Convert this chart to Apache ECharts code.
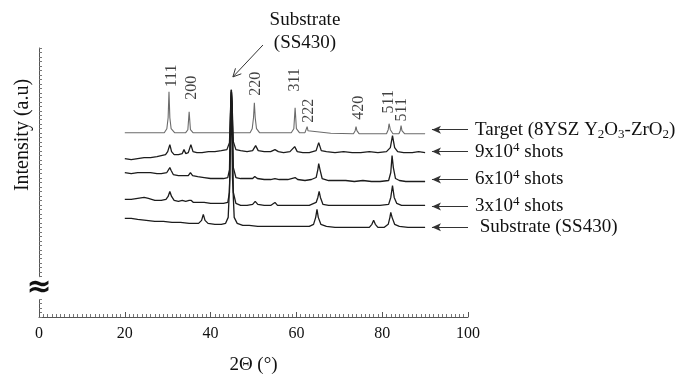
<!DOCTYPE html>
<html>
<head>
<meta charset="utf-8">
<script src="https://cdn.jsdelivr.net/npm/echarts@6/dist/echarts.min.js"></script>
<style>
  html, body { margin: 0; padding: 0; background: #fff; }
  #chart { width: 678px; height: 380px; }
</style>
</head>
<body>
<div id="chart"></div>
<script>
// 2θ ticks
const xTicks = [0, 20, 40, 60, 80, 100];

// patterns, [2θ, intensity with offset]
const target = [
  [20,185],[25,185],[29.2,185],[29.8,189],[30.1,200],[30.3,226],[30.5,200],[30.8,189],[31.6,185],
  [34.2,185],[34.7,188],[35.0,206],[35.3,188],[35.9,185],
  [45,185],[49.2,185],[49.7,189],[50.0,200],[50.2,215],[50.4,200],[50.7,189],[51.4,185],
  [58.8,185],[59.4,189],[59.7,210],[60.0,189],[60.7,185],
  [62.0,185],[62.3,187],[62.5,191],[62.7,187],[63.1,185],[68,184.5],
  [73.3,184],[73.7,187],[73.9,191],[74.1,187],[74.6,184],
  [81.0,184],[81.4,188],[81.6,194],[81.9,188],[82.5,184],
  [83.9,184],[84.2,187],[84.4,192],[84.6,187],[85.2,184],[90,184]
];
const shots9 = [
  [20,159],[21.5,158],[23,159],[24.5,160],[26,160],[27.5,161],[28.5,162],[29.5,163],[30.0,166],[30.5,173],
  [30.9,166],[31.5,163],[32.5,163],[33.4,164],[33.8,168],[34.2,164],[34.8,165],[35.4,173],[35.9,166],
  [36.8,165],[38,165],[39.5,166],[41,166],[42.5,167],[43.8,168],[44.4,175],[44.7,215],[44.85,228],
  [45.0,215],[45.3,176],[45.9,168],[47,167],[48.5,166],[49.8,167],[50.5,172],[51.1,167],[52.5,166],
  [54,166],[55,168],[55.8,166],[57,165],[58.5,166],[59.6,171],[60.2,166],[61.5,165],[63,165],[64.6,167],
  [65.2,175],[65.8,167],[67,166],[69,165],[71,166],[73,165],[75,165],[77,166],[79,165],[81,166],
  [81.9,170],[82.4,182],[82.9,170],[83.6,166],[85,165],[87,165],[88.5,166],[90,165]
];
const shots6 = [
  [20,145],[21.5,144],[23,145],[24.5,145],[26,145],[27.5,144],[28.5,144],[29.8,145],[30.2,147],[30.5,150],
  [30.8,147],[31.3,143],[32.5,142],[33.5,142],[34.8,142],[35.3,145],[35.8,142],[37,141],[38.5,140],
  [40,139],[41.5,139],[43,139],[44,140],[44.4,148],[44.7,215],[44.85,226],[45.0,215],[45.3,150],
  [45.9,140],[47,139],[48.5,139],[49.8,139],[50.3,141],[50.9,139],[52.5,138],[54,138],[55,139],[56,138],
  [58,138],[59.7,140],[60.3,138],[62,137],[63.5,138],[64.6,140],[65.0,148],[65.2,154],[65.5,148],[66,139],
  [67.5,137],[69.5,137],[71.5,137],[73.5,136],[75.5,137],[77.5,136],[79.5,136],[81.5,137],[82.0,145],
  [82.3,162],[82.6,150],[83.1,139],[84,137],[85.5,136],[87,136],[88.5,136],[90,136]
];
const shots3 = [
  [20,118],[21.5,118],[23,119],[24.5,120],[25.5,119],[27,117],[28.5,117],[29.6,118],[30.1,121],[30.5,126],
  [30.9,121],[31.5,117],[32.5,116],[33.4,117],[33.8,118],[34.2,116],[35.0,117],[35.5,117],[36,115],
  [37.5,115],[38.5,115],[40,114],[41.5,114],[43,114],[44,115],[44.4,125],[44.7,215],[44.85,226],
  [45.0,215],[45.3,125],[45.9,114],[47,112],[48.5,112],[49.8,113],[50.4,116],[51,113],[52.5,112],[54,112],
  [55,115],[55.6,112],[57,112],[59,112],[61,112],[63,112],[64.6,115],[65.0,120],[65.3,126],[65.6,120],
  [66.2,113],[67.5,112],[69.5,112],[71.5,112],[73.5,112],[75.5,112],[77.5,112],[79.5,112],[81.5,113],
  [82.0,120],[82.4,132],[82.8,120],[83.4,114],[84.5,112],[86,112],[88,112],[90,112]
];
const substrate = [
  [20,99],[21.5,99],[23,98],[25,97],[27,96],[29,96],[31,95],[33,95],[35,94],[37.2,94],[37.9,97],[38.3,103],
  [38.7,97],[39.4,94],[41,93],[42.5,93],[43.5,94],[44.1,100],[44.5,140],[44.8,228],[45.1,140],[45.5,100],
  [46.2,94],[47.5,92],[49,92],[51,91],[53,91],[55,91],[57,91],[59,91],[61,91],[63,91],[64.0,93],[64.5,100],
  [64.8,108],[65.1,100],[65.7,93],[67,91],[69,90],[71,90],[73,90],[75,90],[77,90],[77.6,93],[78.0,97],
  [78.4,93],[79,90],[80.5,90],[81.4,93],[81.8,100],[82.0,105],[82.3,100],[82.9,93],[84,91],[86,90],
  [88,90],[90,90]
];

// peak indices [2θ, position, hkl]
const peakLabels = [
  [30.9, 242, '111'], [35.7, 230, '200'], [50.5, 234, '220'], [59.7, 238, '311'],
  [63.0, 207, '222'], [74.5, 210, '420'], [81.5, 216, '511'], [84.5, 208, '511']
];

// right-hand names and arrow levels
const seriesNames = ['Target', '9x10^4 shots', '6x10^4 shots', '3x10^4 shots', 'Substrate (SS430)'];
const seriesLabels = [
  'Target (8YSZ Y{b|2}O{b|3}-ZrO{b|2})',
  '9x10{p|4} shots',
  '6x10{p|4} shots',
  '3x10{p|4} shots',
  ' Substrate (SS430)'
];
const arrowLevels = [188, 166, 138, 111, 90];
const seriesData = [target, shots9, shots6, shots3, substrate];
const lineColors = ['#6b6b6b', '#1c1c1c', '#1c1c1c', '#1c1c1c', '#1c1c1c'];

const font = 'Liberation Serif';

const chart = echarts.init(document.getElementById('chart'));

const series = seriesData.map((d, i) => ({
  name: seriesNames[i],
  type: 'line',
  data: d,
  showSymbol: false,
  symbol: 'none',
  smooth: false,
  clip: false,
  z: i === 0 ? 2 : 3,
  lineStyle: { color: lineColors[i], width: i === 0 ? 1.1 : 1.3 },
  markLine: {
    silent: true,
    symbol: ['arrow', 'none'],
    symbolSize: [6, 9],
    lineStyle: { color: '#333', width: 1, type: 'solid' },
    label: {
      show: true,
      position: 'end',
      distance: 7,
      formatter: seriesLabels[i],
      color: '#111',
      fontFamily: font,
      fontSize: 19,
      lineHeight: 22,
      rich: {
        b: { fontSize: 13, fontFamily: font, color: '#111', lineHeight: 22, verticalAlign: 'bottom' },
        p: { fontSize: 13, fontFamily: font, color: '#111', lineHeight: 22, verticalAlign: 'top' }
      }
    },
    data: [[{ coord: [91.6, arrowLevels[i]] }, { coord: [100, arrowLevels[i]] }]]
  }
}));

series.push({
  type: 'scatter',
  data: peakLabels,
  symbolSize: 0,
  silent: true,
  label: {
    show: true,
    position: 'inside',
    rotate: 90,
    formatter: p => p.value[2],
    color: '#111',
    fontFamily: font,
    fontSize: 16
  }
});

chart.setOption({
  animation: false,
  backgroundColor: '#fff',
  grid: { left: 39, right: 210, top: 48, bottom: 62 },
  xAxis: {
    type: 'value',
    min: 0,
    max: 100,
    interval: 20,
    name: '2Θ (°)',
    nameLocation: 'middle',
    nameGap: 39,
    nameTextStyle: { fontFamily: font, fontSize: 19, color: '#111' },
    axisLine: { show: true, onZero: false, lineStyle: { color: '#555', width: 1 } },
    axisTick: { show: true, inside: true, length: 5, lineStyle: { color: '#555' } },
    minorTick: { show: true, splitNumber: 20, length: 3, lineStyle: { color: '#777' } },
    axisLabel: { fontFamily: font, fontSize: 16, color: '#111', margin: 9,
      formatter: v => (xTicks.indexOf(v) >= 0 ? String(v) : '') },
    splitLine: { show: false }
  },
  yAxis: {
    type: 'value',
    min: 0,
    max: 270,
    interval: 4.5,
    axisLine: { show: true, onZero: false, lineStyle: { color: '#555', width: 1 } },
    axisTick: { show: true, inside: true, length: 3, lineStyle: { color: '#777' } },
    axisLabel: { show: false },
    splitLine: { show: false }
  },
  series: series
});

// annotations placed through the axes
const px = (x, y) => chart.convertToPixel({ gridIndex: 0 }, [x, y]);
const subTxt = px(62.0, 287);
const arrA = px(52.2, 273);
const arrB = px(45.2, 241);
const dx = arrB[0] - arrA[0], dy = arrB[1] - arrA[1];
const len = Math.sqrt(dx * dx + dy * dy);
const ux = dx / len, uy = dy / len;
const head = 8, spread = 4;
const brk = px(0, 29);

chart.setOption({
  graphic: [
    {
      type: 'text', x: subTxt[0], y: subTxt[1],
      style: { text: 'Substrate\n(SS430)', fontFamily: font, fontSize: 19, lineHeight: 23,
        fill: '#111', align: 'center', verticalAlign: 'middle' }
    },
    {
      type: 'line', shape: { x1: arrA[0], y1: arrA[1], x2: arrB[0], y2: arrB[1] },
      style: { stroke: '#333', lineWidth: 1 }
    },
    {
      type: 'polyline',
      shape: { points: [
        [arrB[0] - ux * head - uy * spread, arrB[1] - uy * head + ux * spread],
        [arrB[0], arrB[1]],
        [arrB[0] - ux * head + uy * spread, arrB[1] - uy * head - ux * spread]
      ] },
      style: { stroke: '#333', lineWidth: 1, fill: null }
    },
    {
      type: 'rect', shape: { x: brk[0] - 6, y: brk[1] - 11, width: 12, height: 22 },
      style: { fill: '#fff' }, z: 10
    },
    {
      type: 'text', x: brk[0], y: brk[1], z: 11,
      style: { text: '≈', fontFamily: 'DejaVu Sans', fontSize: 30, fontWeight: 'bold',
        fill: '#111', align: 'center', verticalAlign: 'middle' }
    },
    {
      type: 'text', x: 23, y: 135, rotation: Math.PI / 2,
      style: { text: 'Intensity (a.u)', fontFamily: font, fontSize: 20, fill: '#111',
        align: 'center', verticalAlign: 'middle' }
    }
  ]
});
</script>
</body>
</html>
